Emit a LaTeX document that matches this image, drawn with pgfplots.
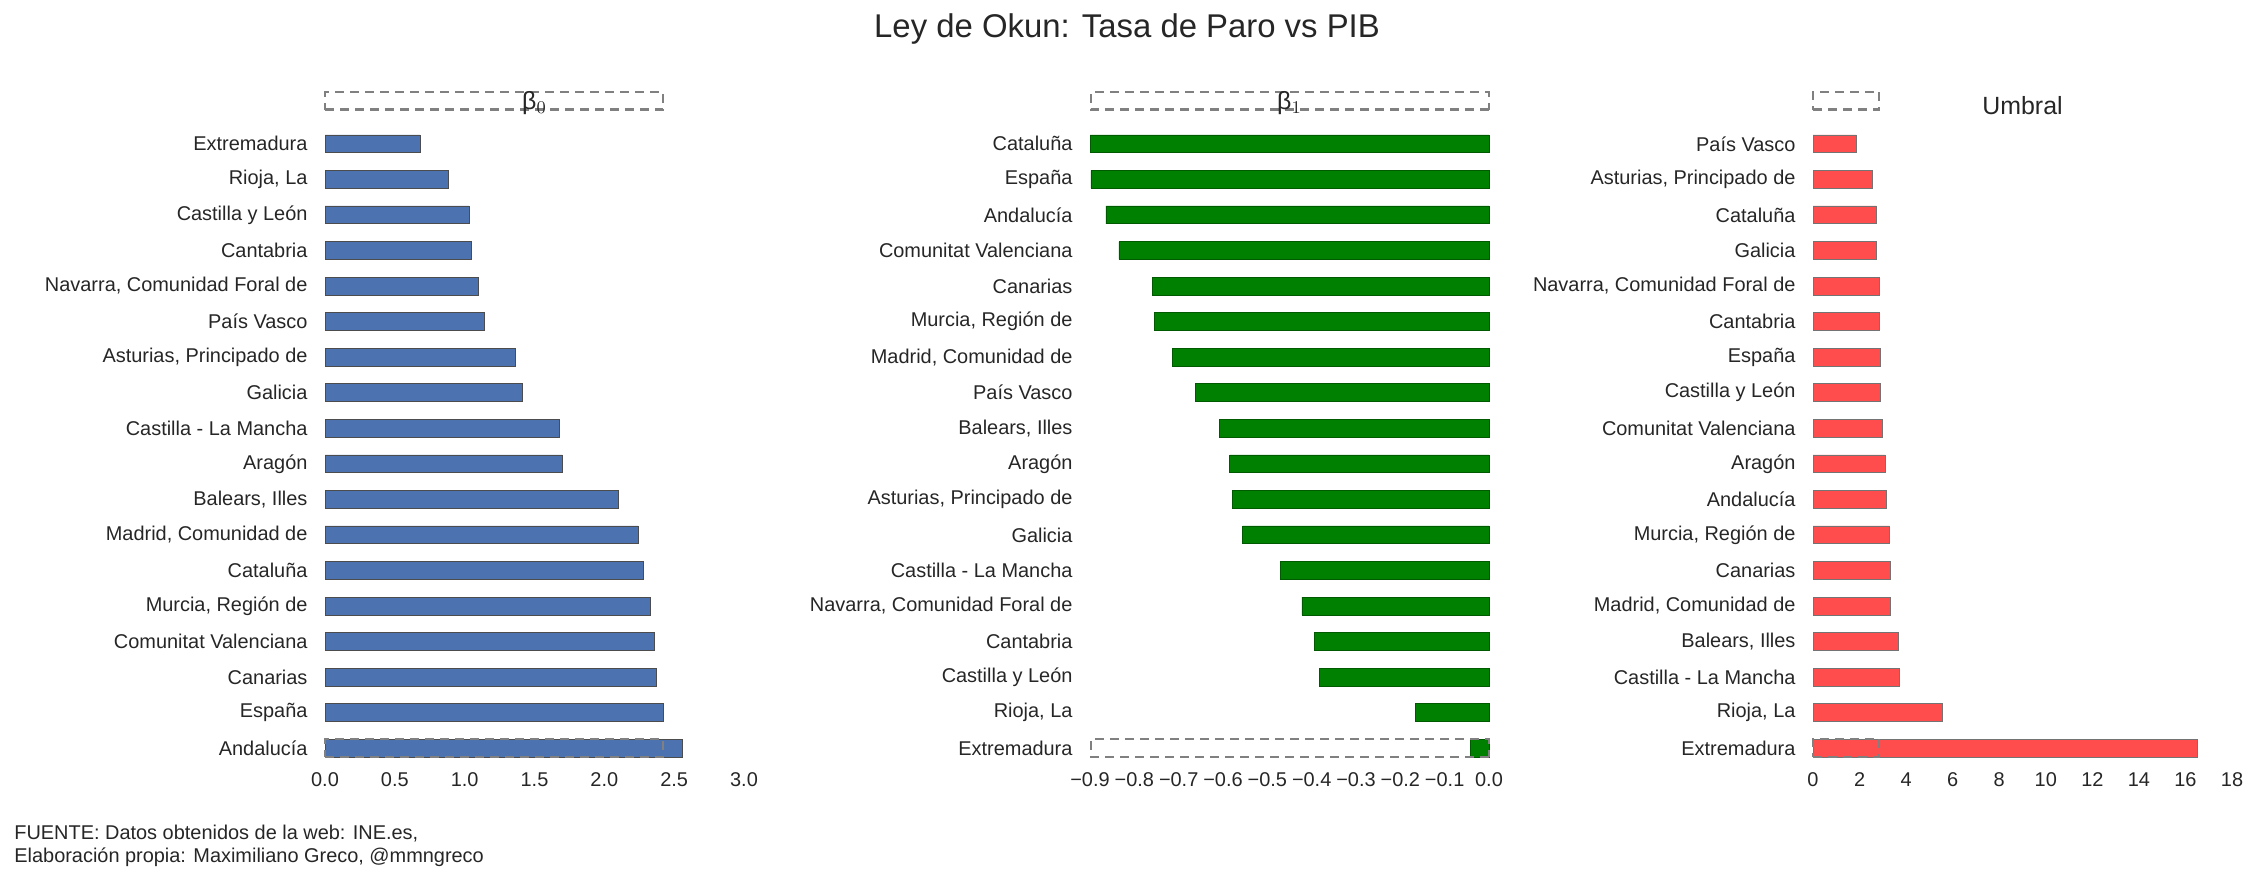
\documentclass[border=0pt]{standalone}
\usepackage{pgfplots}
\pgfplotsset{compat=1.18}
\usepackage{fontspec}
\setmainfont{Liberation Sans}
\definecolor{cblue}{HTML}{4C72B0}
\definecolor{cgreen}{HTML}{008000}
\definecolor{cred}{HTML}{FF4C4C}
\definecolor{txt}{HTML}{262626}
\pgfplotsset{
  common/.style={
    scale only axis, width=209.5bp, height=320bp,
    ymin=-0.5, ymax=17.5, ytick={0,...,17},
    axis line style={draw=none}, major tick style={draw=none},
    tick label style={font=\fontsize{10}{12}\selectfont, text=txt},
    /pgf/number format/assume math mode=true,
    xbar, bar width=8.9bp, anchor=south west, clip=false,
    title style={font=\fontsize{12.5}{14}\selectfont, text=txt, yshift=-4bp},
    yticklabel style={xshift=-1bp},
  },
  dash/.style={gray, line width=1.1bp, dash pattern=on 4.5bp off 3bp, forget plot},
}
\begin{document}
\begin{tikzpicture}
\path[use as bounding box] (0,0) rectangle (1128.5bp,439.5bp);
% Panel 1
\begin{axis}[common, at={(162.5bp,56.5bp)}, xmin=0, xmax=3, xtick={0,0.5,...,3},
  xticklabel style={/pgf/number format/.cd, fixed, fixed zerofill, precision=1},
  title={β$_0$},
  yticklabels={Andalucía,España,Canarias,Comunitat Valenciana,{Murcia, Región de},Cataluña,{Madrid, Comunidad de},{Balears, Illes},Aragón,Castilla - La Mancha,Galicia,{Asturias, Principado de},País Vasco,{Navarra, Comunidad Foral de},Cantabria,Castilla y León,{Rioja, La},Extremadura}]
\addplot[fill=cblue, draw=black!70, line width=0.3bp] coordinates {
(2.56,0)(2.42,1)(2.37,2)(2.36,3)(2.33,4)(2.28,5)(2.24,6)(2.10,7)(1.70,8)(1.68,9)(1.41,10)(1.36,11)(1.14,12)(1.10,13)(1.05,14)(1.03,15)(0.88,16)(0.68,17)};
\addplot[dash, xbar=0pt, draw=gray] coordinates {(2.42,-0.6)(2.42,17.6)};
\end{axis}
% Panel 2
\begin{axis}[common, width=199.5bp, at={(545bp,56.5bp)}, xmin=-0.9, xmax=0, xtick={-0.9,-0.8,...,0},
  xticklabels={−0.9,−0.8,−0.7,−0.6,−0.5,−0.4,−0.3,−0.2,−0.1,0.0},
  title={β$_1$},
  yticklabels={Extremadura,{Rioja, La},Castilla y León,Cantabria,{Navarra, Comunidad Foral de},Castilla - La Mancha,Galicia,{Asturias, Principado de},Aragón,{Balears, Illes},País Vasco,{Madrid, Comunidad de},{Murcia, Región de},Canarias,Comunitat Valenciana,Andalucía,España,Cataluña}]
\addplot[fill=cgreen, draw=cgreen!70!black, line width=0.3bp] coordinates {
(-0.042,0)(-0.166,1)(-0.383,2)(-0.393,3)(-0.422,4)(-0.471,5)(-0.556,6)(-0.578,7)(-0.585,8)(-0.608,9)(-0.663,10)(-0.715,11)(-0.754,12)(-0.760,13)(-0.835,14)(-0.864,15)(-0.898,16)(-0.900,17)};
\addplot[dash, draw=gray] coordinates {(-0.898,-0.6)(-0.898,17.6)};
\end{axis}
% Panel 3
\begin{axis}[common, at={(906.5bp,56.5bp)}, xmin=0, xmax=18, xtick={0,2,...,18},
  title={Umbral},
  yticklabels={Extremadura,{Rioja, La},Castilla - La Mancha,{Balears, Illes},{Madrid, Comunidad de},Canarias,{Murcia, Región de},Andalucía,Aragón,Comunitat Valenciana,Castilla y León,España,Cantabria,{Navarra, Comunidad Foral de},Galicia,Cataluña,{Asturias, Principado de},País Vasco}]
\addplot[fill=cred, draw=black!55, line width=0.3bp] coordinates {
(16.5,0)(5.57,1)(3.71,2)(3.65,3)(3.34,4)(3.34,5)(3.28,6)(3.15,7)(3.09,8)(2.97,9)(2.90,10)(2.90,11)(2.85,12)(2.84,13)(2.72,14)(2.72,15)(2.54,16)(1.86,17)};
\addplot[dash, draw=gray] coordinates {(2.85,-0.6)(2.85,17.6)};
\end{axis}
\node[font=\fontsize{16.5}{19}\selectfont, text=txt] at (563.5bp,425bp) {Ley de Okun: Tasa de Paro vs PIB};
\node[font=\fontsize{10}{11.5}\selectfont, text=txt, anchor=north west, align=left, inner sep=0pt] at (7bp,27bp) {FUENTE: Datos obtenidos de la web: INE.es,\\Elaboración propia: Maximiliano Greco, @mmngreco};
\end{tikzpicture}
\end{document}
